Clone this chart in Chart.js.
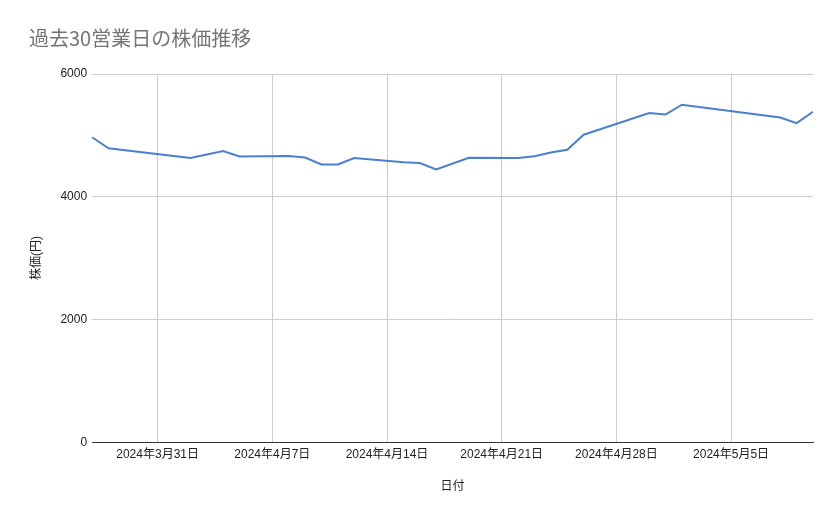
<!DOCTYPE html>
<html>
<head>
<meta charset="utf-8">
<script src="https://cdn.jsdelivr.net/npm/chart.js@4.4.1/dist/chart.umd.min.js"></script>
<style>
  body { margin: 0; background: #fff; }
  #wrap { width: 839px; height: 519px; }
</style>
</head>
<body>
<div id="wrap"><canvas id="priceChart"></canvas></div>
<script>
// 日付と終値
const dates = [
  '2024-03-27', '2024-03-28', '2024-04-02', '2024-04-04', '2024-04-05',
  '2024-04-08', '2024-04-09', '2024-04-10', '2024-04-11', '2024-04-12',
  '2024-04-15', '2024-04-16', '2024-04-17', '2024-04-19', '2024-04-22',
  '2024-04-23', '2024-04-24', '2024-04-25', '2024-04-26', '2024-04-30',
  '2024-05-01', '2024-05-02', '2024-05-08', '2024-05-09', '2024-05-10'
];
const prices = [
  4970, 4790, 4630, 4745, 4655,
  4665, 4640, 4525, 4525, 4630,
  4560, 4550, 4445, 4635, 4630,
  4660, 4720, 4765, 5010, 5365,
  5340, 5500, 5290, 5200, 5385
];
const tickDates = ['2024-03-31', '2024-04-07', '2024-04-14', '2024-04-21', '2024-04-28', '2024-05-05'];
const yTicks = [0, 2000, 4000, 6000];
const xMinDate = '2024-03-27';
const xMaxDate = '2024-05-10';

const DAY = 86400000;
const base = Date.UTC(2024, 2, 31);
function dayNum(s) {
  const p = s.split('-').map(Number);
  return Math.round((Date.UTC(p[0], p[1] - 1, p[2]) - base) / DAY);
}
function fmt(v) {
  const d = new Date(base + v * DAY);
  return d.getUTCFullYear() + '年' + (d.getUTCMonth() + 1) + '月' + d.getUTCDate() + '日';
}

const points = dates.map((d, i) => ({ x: dayNum(d), y: prices[i] }));
const fontFam = '"Liberation Sans", Arial, "Noto Sans CJK JP", sans-serif';

const ctx = document.getElementById('priceChart').getContext('2d');
const chart = new Chart(ctx, {
  type: 'line',
  data: {
    datasets: [{
      label: '株価',
      data: points,
      borderColor: '#4a7fd1',
      borderWidth: 2,
      pointRadius: 0,
      tension: 0,
      fill: false
    }]
  },
  options: {
    responsive: true,
    maintainAspectRatio: false,
    animation: false,
    layout: { padding: { left: 29, right: 26, top: 24, bottom: 25 } },
    plugins: {
      legend: { display: false },
      tooltip: { enabled: false },
      title: {
        display: true,
        text: '過去30営業日の株価推移',
        align: 'start',
        color: '#757575',
        font: { family: '"Noto Sans CJK JP", sans-serif', size: 20, weight: 'normal' },
        padding: { top: 2, bottom: 24 }
      }
    },
    scales: {
      x: {
        type: 'linear',
        min: dayNum(xMinDate),
        max: dayNum(xMaxDate),
        afterBuildTicks: axis => { axis.ticks = tickDates.map(d => ({ value: dayNum(d) })); },
        ticks: {
          callback: v => fmt(v),
          color: '#222',
          font: { family: fontFam, size: 12 },
          maxRotation: 0,
          autoSkip: false,
          padding: 5
        },
        grid: { color: '#cccccc', drawTicks: false },
        border: { display: true, color: '#333', width: 1 },
        title: {
          display: true,
          text: '日付',
          color: '#222',
          font: { family: fontFam, size: 12 },
          padding: { top: 13, bottom: 0 }
        }
      },
      y: {
        min: 0,
        max: 6000,
        afterBuildTicks: axis => { axis.ticks = yTicks.map(v => ({ value: v })); },
        ticks: {
          callback: v => String(v),
          color: '#222',
          font: { family: fontFam, size: 12 },
          padding: 5
        },
        grid: { color: '#cccccc', drawTicks: false },
        border: { display: false },
        title: {
          display: true,
          text: '株価(円)',
          color: '#222',
          font: { family: fontFam, size: 12 },
          padding: { top: 0, bottom: 12 }
        }
      }
    }
  }
});
</script>
</body>
</html>
